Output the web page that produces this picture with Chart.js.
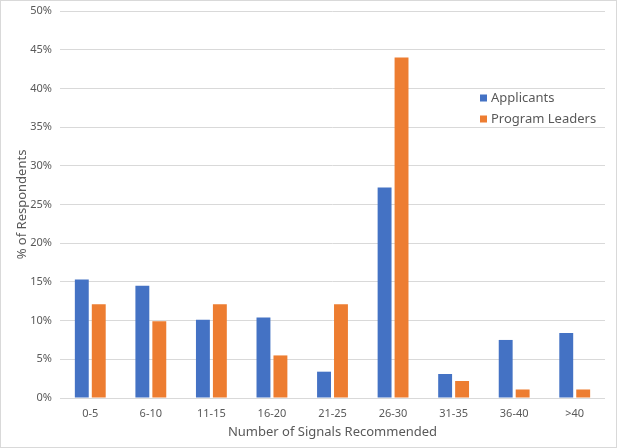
<!DOCTYPE html>
<html>
<head>
<meta charset="utf-8">
<script src="https://cdn.jsdelivr.net/npm/chart.js@4/dist/chart.umd.min.js"></script>
<style>
  html, body { margin: 0; padding: 0; background: #fff; }
  #wrap { position: relative; width: 617px; height: 448px; }
</style>
</head>
<body>
<div id="wrap"><canvas id="c" width="617" height="448"></canvas></div>
<script>
const categories = ['0-5', '6-10', '11-15', '16-20', '21-25', '26-30', '31-35', '36-40', '>40'];
const applicants = [15.3, 14.5, 10.1, 10.4, 3.4, 27.2, 3.1, 7.5, 8.4];
const programLeaders = [12.1, 9.9, 12.1, 5.5, 12.1, 44.0, 2.2, 1.1, 1.1];
const seriesNames = ['Applicants', 'Program Leaders'];
const seriesColors = ['#4472C4', '#ED7D31'];

const FONT = '"Noto Sans", "Open Sans", sans-serif';
const GREY = '#595959';

const borderPlugin = {
  id: 'frame',
  beforeDraw(chart) {
    const ctx = chart.ctx;
    ctx.save();
    ctx.fillStyle = '#fff';
    ctx.fillRect(0, 0, chart.width, chart.height);
    ctx.strokeStyle = '#d9d9d9';
    ctx.lineWidth = 1;
    ctx.strokeRect(0.5, 0.5, chart.width - 1, chart.height - 1);
    ctx.restore();
  }
};

const legendPlugin = {
  id: 'innerLegend',
  afterDraw(chart) {
    const ctx = chart.ctx;
    ctx.save();
    ctx.font = '13px ' + FONT;
    ctx.textBaseline = 'middle';
    ctx.textAlign = 'left';
    chart.data.datasets.forEach((ds, i) => {
      const y = 98 + i * 21;
      ctx.fillStyle = ds.backgroundColor;
      ctx.fillRect(480, y - 3.5, 7, 7);
      ctx.fillStyle = GREY;
      ctx.fillText(ds.label, 491, y);
    });
    ctx.restore();
  }
};

new Chart(document.getElementById('c'), {
  type: 'bar',
  data: {
    labels: categories,
    datasets: [
      { label: seriesNames[0], data: applicants, backgroundColor: seriesColors[0] },
      { label: seriesNames[1], data: programLeaders, backgroundColor: seriesColors[1] }
    ]
  },
  options: {
    responsive: false,
    animation: false,
    devicePixelRatio: 1,
    layout: { padding: { top: 11, right: 12, bottom: 0, left: 0 } },
    datasets: { bar: { categoryPercentage: 0.56, barPercentage: 0.82 } },
    plugins: { legend: { display: false }, tooltip: { enabled: false } },
    scales: {
      x: {
        grid: { display: false },
        border: { display: false },
        ticks: { color: GREY, font: { family: FONT, size: 11 }, padding: 1 },
        title: { display: true, text: 'Number of Signals Recommended', color: GREY,
                 font: { family: FONT, size: 13 }, padding: { top: 0, bottom: 8 } },
        afterFit(s) { s.height = 50; }
      },
      y: {
        min: 0, max: 50,
        ticks: { stepSize: 5, color: GREY, font: { family: FONT, size: 11 }, padding: 8,
                 callback: v => v + '%' },
        grid: { color: '#d9d9d9', drawTicks: false },
        border: { display: false },
        title: { display: true, text: '% of Respondents', color: GREY,
                 font: { family: FONT, size: 13 }, padding: { top: 14, bottom: 4 } },
        afterFit(s) { s.width = 60; s.paddingTop = 0; s.paddingBottom = 0; }
      }
    }
  },
  plugins: [borderPlugin, legendPlugin]
});
</script>
</body>
</html>
